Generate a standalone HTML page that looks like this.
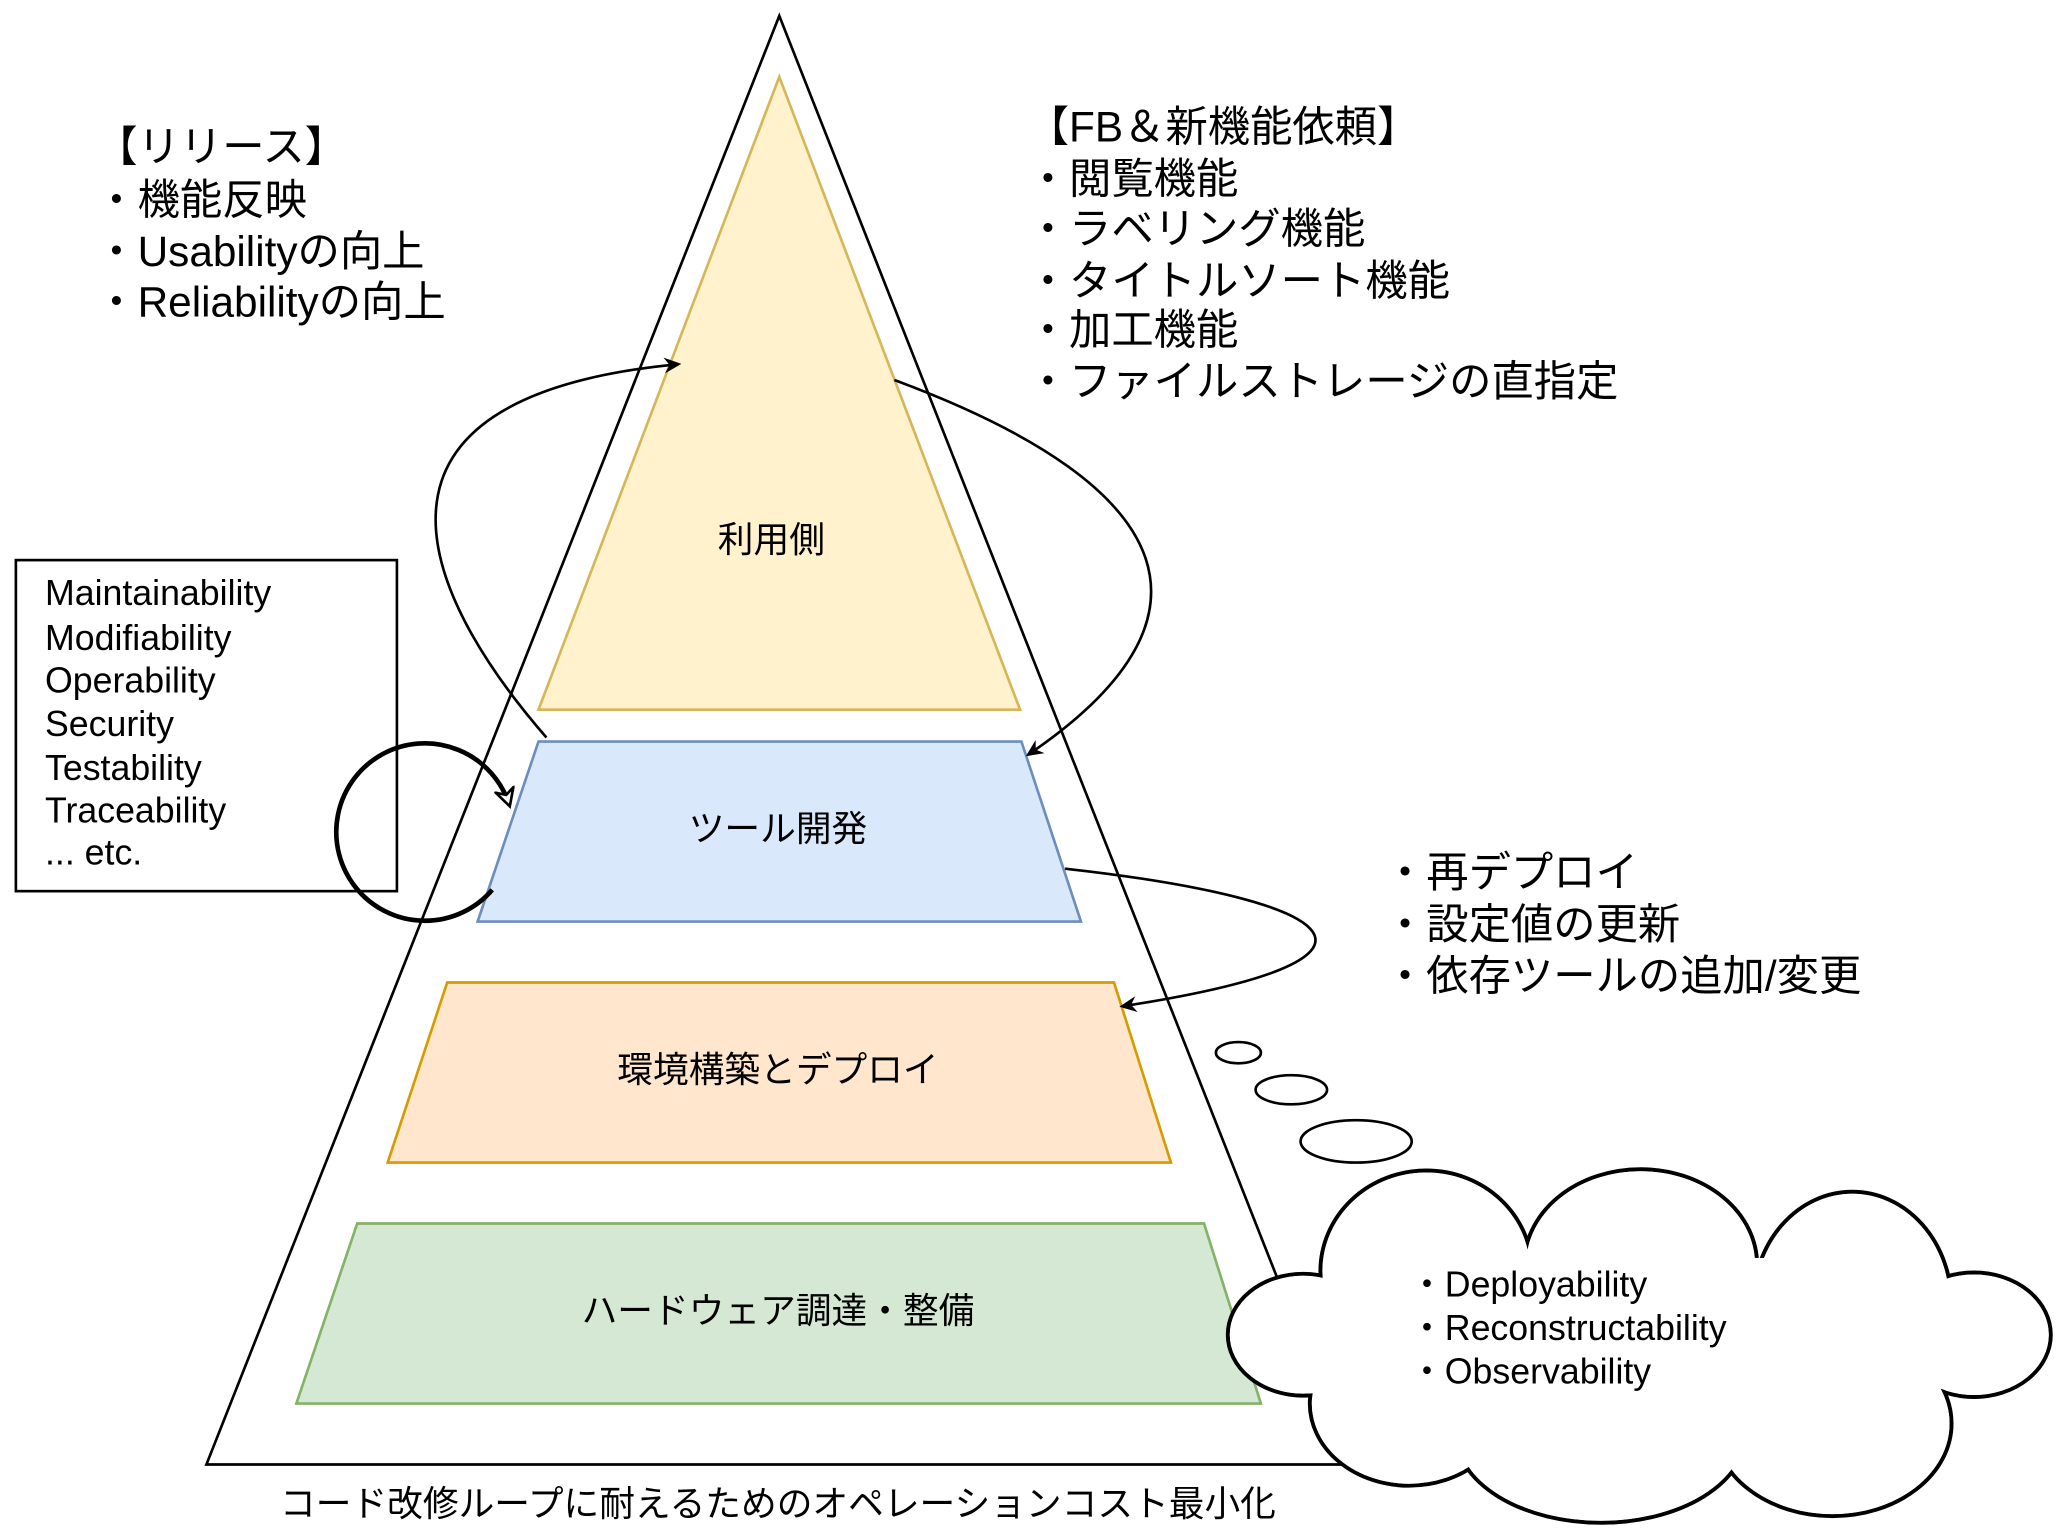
<!DOCTYPE html>
<html><head><meta charset="utf-8"><style>
html,body{margin:0;padding:0;background:#fff;}
svg{display:block;}
text{font-family:"Liberation Sans","Noto Sans CJK JP",sans-serif;fill:#000;}
</style></head><body>
<svg width="2064" height="1536" viewBox="0 0 1560 1160" preserveAspectRatio="none" xmlns="http://www.w3.org/2000/svg">
<defs>
<marker id="ah" markerWidth="14" markerHeight="14" refX="11" refY="7" orient="auto" markerUnits="userSpaceOnUse" viewBox="0 0 14 14">
<path d="M0,1 L13,7 L0,13 L4,7 Z" fill="#000"/>
</marker>
<marker id="ao" markerWidth="16" markerHeight="16" refX="13" refY="8" orient="auto" markerUnits="userSpaceOnUse" viewBox="0 0 16 16">
<path d="M1,1 L14,8 L1,15 L5,8 Z" fill="#fff" stroke="#000" stroke-width="2"/>
</marker>
</defs>
<polygon points="589,12 1021,1106 156,1106" fill="#fff" stroke="#000" stroke-width="2"/>
<polygon points="589,58 771,536 407,536" fill="#fff2cc" stroke="#d6b656" stroke-width="2"/>
<polygon points="407,560 772,560 817,696 361,696" fill="#dae8fc" stroke="#6c8ebf" stroke-width="2"/>
<polygon points="338,742 842,742 885,878 293,878" fill="#ffe6cc" stroke="#d79b00" stroke-width="2"/>
<polygon points="270,924 910,924 953,1060 224,1060" fill="#d5e8d4" stroke="#82b366" stroke-width="2"/>
<g font-size="27" text-anchor="middle">
<text x="583" y="417">利用側</text>
<text x="588" y="635">ツール開発</text>
<text x="588" y="817">環境構築とデプロイ</text>
<text x="588" y="999">ハードウェア調達・整備</text>
<text x="588" y="1145" fill="#222">コード改修ループに耐えるためのオペレーションコスト最小化</text>
</g>
<rect x="12" y="423" width="288" height="250" fill="#fff" stroke="#000" stroke-width="2"/>
<g font-size="27">
<text x="34" y="457">Maintainability</text>
<text x="34" y="491">Modifiability</text>
<text x="34" y="523">Operability</text>
<text x="34" y="556">Security</text>
<text x="34" y="589">Testability</text>
<text x="34" y="621">Traceability</text>
<text x="34" y="653">... etc.</text>
</g>
<g font-size="32">
<text x="72" y="122">【リリース】</text>
<text x="72" y="162">・機能反映</text>
<text x="72" y="201">・Usabilityの向上</text>
<text x="72" y="239">・Reliabilityの向上</text>
<text x="776" y="107">【FB＆新機能依頼】</text>
<text x="776" y="146">・閲覧機能</text>
<text x="776" y="184">・ラベリング機能</text>
<text x="776" y="223">・タイトルソート機能</text>
<text x="776" y="260">・加工機能</text>
<text x="776" y="299">・ファイルストレージの直指定</text>
<text x="1046" y="670">・再デプロイ</text>
<text x="1046" y="709">・設定値の更新</text>
<text x="1046" y="748">・依存ツールの追加/変更</text>
</g>
<g fill="none" stroke="#000" stroke-width="2">
<path d="M413,557 C320,450 250,300 513,275" marker-end="url(#ah)"/>
<path d="M676,287 C900,370 925,470 777,570" marker-end="url(#ah)"/>
<path d="M805,656 C1020,680 1075,725 848,760" marker-end="url(#ah)"/>
<path d="M372,672 A67,67 0 1 1 385,608" stroke-width="3.5" marker-end="url(#ao)"/>
<ellipse cx="936" cy="795" rx="17" ry="8"/>
<ellipse cx="976" cy="823" rx="27" ry="11"/>
<ellipse cx="1025" cy="862" rx="42" ry="16"/>
</g>
<g stroke="#000" stroke-width="3" fill="#fff">
<ellipse cx="1078" cy="960" rx="80" ry="76"/>
<ellipse cx="1240" cy="955" rx="88" ry="72"/>
<ellipse cx="1400" cy="985" rx="75" ry="85"/>
<ellipse cx="1492" cy="1008" rx="58" ry="47"/>
<ellipse cx="1385" cy="1075" rx="90" ry="70"/>
<ellipse cx="1210" cy="1082" rx="110" ry="68"/>
<ellipse cx="1065" cy="1060" rx="75" ry="62"/>
<ellipse cx="985" cy="1008" rx="57" ry="46"/>
</g>
<g fill="#fff">
<ellipse cx="1078" cy="960" rx="78.5" ry="74.5"/>
<ellipse cx="1240" cy="955" rx="86.5" ry="70.5"/>
<ellipse cx="1400" cy="985" rx="73.5" ry="83.5"/>
<ellipse cx="1492" cy="1008" rx="56.5" ry="45.5"/>
<ellipse cx="1385" cy="1075" rx="88.5" ry="68.5"/>
<ellipse cx="1210" cy="1082" rx="108.5" ry="66.5"/>
<ellipse cx="1065" cy="1060" rx="73.5" ry="60.5"/>
<ellipse cx="985" cy="1008" rx="55.5" ry="44.5"/>
<rect x="1010" y="950" width="450" height="120"/>
</g>
<g font-size="27">
<text x="1065" y="979">・Deployability</text>
<text x="1065" y="1012">・Reconstructability</text>
<text x="1065" y="1045">・Observability</text>
</g>
</svg>
</body></html>
